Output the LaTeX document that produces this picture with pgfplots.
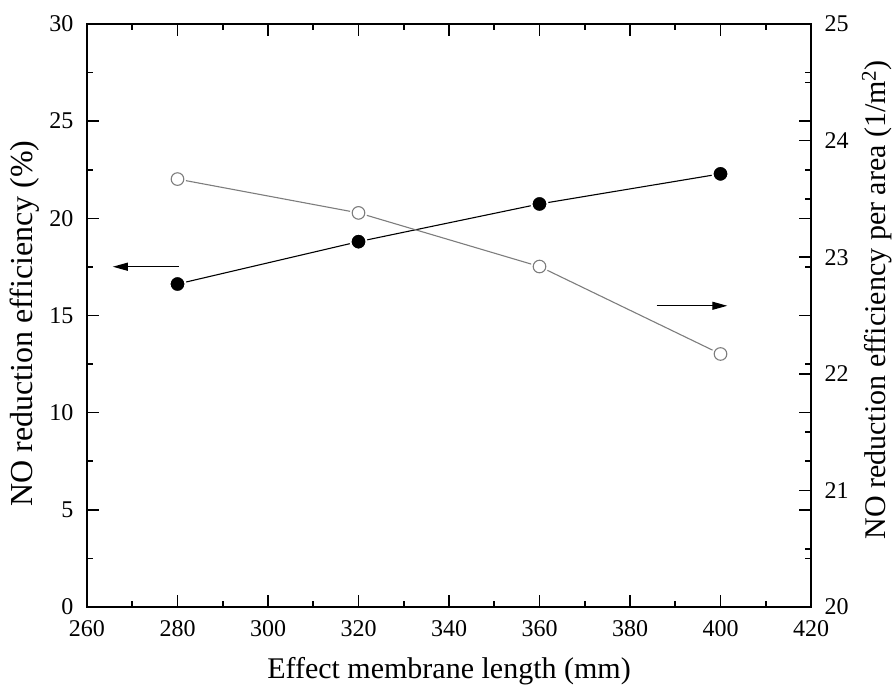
\documentclass[border=0pt]{standalone}
\usepackage{fontspec}
\setmainfont{Liberation Serif}
\usepackage{pgfplots}
\pgfplotsset{compat=1.18}
\usetikzlibrary{arrows.meta}
\definecolor{opengray}{RGB}{125,125,125}
\pgfplotsset{
  myaxis/.style={
    scale only axis, width=724pt, height=583pt,
    at={(0,0)}, anchor=south west,
    tick align=inside,
    major tick length=12pt, minor tick length=6pt,
    axis line style={line width=1.6pt},
    every tick/.style={line width=1.6pt, black},
    /pgf/number format/assume math mode=true,
    ticklabel style={font=\fontsize{24}{28}\selectfont},
    xmin=260, xmax=420,
  }
}
\begin{document}
\begin{tikzpicture}
\path[use as bounding box] (-87pt,-79pt) rectangle (806pt,607pt);
\begin{axis}[myaxis,
  ymin=0, ymax=30,
  xtick={260,280,...,420}, minor x tick num=1,
  ytick={0,5,...,30}, minor y tick num=1,
  xticklabel style={yshift=-10pt},
  yticklabel style={xshift=-10pt},
  xlabel={Effect membrane length (mm)},
  ylabel={NO reduction efficiency (\%)},
  every axis x label/.style={at={(axis description cs:0.5,0)}, anchor=base, yshift=-71pt, font=\fontsize{30}{35}\selectfont},
  every axis y label/.style={at={(axis description cs:-0.0746,0.486)}, rotate=90, anchor=base, font=\fontsize{32}{37}\selectfont},
  clip=false,
]
\addplot[black, line width=1.1pt, mark=*, mark size=8pt,
  mark options={fill=black, draw=white, line width=2pt}]
  coordinates {(280,16.62) (320,18.80) (360,20.74) (400,22.29)};
\draw[line width=1.1pt, -{Triangle[length=15pt,width=8pt]}] (axis cs:280.3,17.51) -- (axis cs:265.7,17.51);
\draw[line width=1.1pt, -{Triangle[length=15pt,width=8pt]}] (axis cs:385.9,15.5) -- (axis cs:401.5,15.5);
\end{axis}
\begin{axis}[myaxis,
  ymin=20, ymax=25,
  axis x line=none,
  axis y line*=right,
  ytick={20,21,...,25}, minor y tick num=1,
  yticklabel style={xshift=10pt},
  ylabel={NO reduction efficiency per area (1/m$^{\mathrm{2}}$)},
  every axis y label/.style={at={(axis description cs:1.1022,0.527)}, rotate=90, anchor=base, font=\fontsize{30}{35}\selectfont},
  clip=false,
]
\addplot[opengray, line width=1.1pt] coordinates {(280,23.67) (320,23.38) (360,22.92) (400,22.17)};
\addplot[only marks, mark=*, mark size=8.5pt, mark options={fill=white, draw=white}]
  coordinates {(280,23.67) (320,23.38) (360,22.92) (400,22.17)};
\addplot[only marks, mark=*, mark size=6.3pt, mark options={fill=white, draw=opengray, line width=1.1pt}]
  coordinates {(280,23.67) (320,23.38) (360,22.92) (400,22.17)};
\end{axis}
\end{tikzpicture}
\end{document}
